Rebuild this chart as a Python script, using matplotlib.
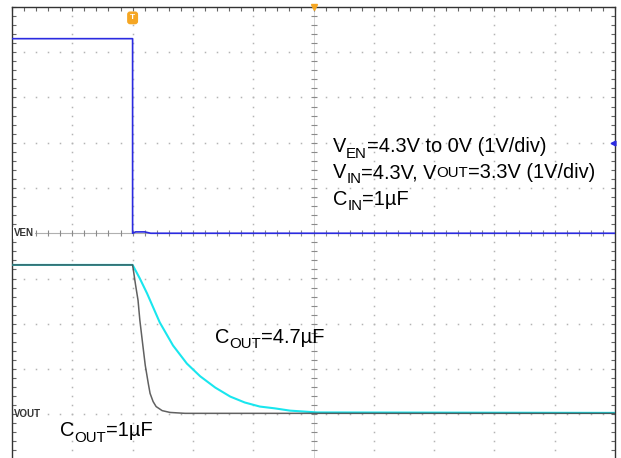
import numpy as np
import matplotlib
matplotlib.use("Agg")
import matplotlib.pyplot as plt
from matplotlib.ticker import MultipleLocator

plt.rcParams['font.family'] = ['Liberation Sans', 'DejaVu Sans']

# time in divisions, trigger at 0
t_en = [-2.0, 0.0, 0.0, 0.05, 0.2, 0.3, 8.0]
v_en = [4.3, 4.3, 0.0, 0.03, 0.03, 0.0, 0.0]

t_1u = [-2.0, 0.0, 0.05, 0.09, 0.12, 0.17, 0.21, 0.26, 0.29, 0.34, 0.39, 0.49, 0.62, 0.87, 8.0]
v_1u = [3.3, 3.3, 2.85, 2.52, 2.08, 1.52, 1.08, 0.68, 0.46, 0.28, 0.17, 0.08, 0.04, 0.02, 0.02]

t_47u = [-2.0, 0.0, 0.12, 0.24, 0.45, 0.67, 0.90, 1.12, 1.37, 1.62, 1.86, 2.11, 2.36, 2.61, 3.06, 8.0]
v_47u = [3.3, 3.3, 3.0, 2.67, 2.03, 1.52, 1.12, 0.84, 0.59, 0.39, 0.26, 0.17, 0.13, 0.08, 0.04, 0.03]

# channel positions (div)
en_offset = 0.0
out_offset = -4.0

fig = plt.figure(figsize=(6.21, 4.58), dpi=100)
ax = fig.add_axes([12/621, 1 - 459.5/458, 603/621, 452.5/458])
ax.set_xlim(-2, 8)
ax.set_ylim(-5, 5)

# dotted graticule
grid_c = '#b4b4b4'
fine_y = np.arange(-5, 5.01, 0.2)
fine_x = np.arange(-2, 8.01, 0.2)
for gx in range(-1, 8):
    if gx == 3:
        continue
    ax.plot(np.full_like(fine_y, gx), fine_y, ls='none', marker='s', ms=1.1, mew=0, color=grid_c, zorder=1)
for gy in range(-4, 5):
    if gy == 0:
        continue
    ax.plot(fine_x, np.full_like(fine_x, gy), ls='none', marker='s', ms=1.1, mew=0, color=grid_c, zorder=1)

# center axes with ticks
ax.axvline(3, color='#cfcfcf', lw=0.6, zorder=1)
ax.plot(np.full_like(fine_y, 3), fine_y, ls='none', marker='_', ms=4, mew=0.8, color='#8a8a8a', zorder=1)
ax.axhline(0, color='#b0b0b0', lw=0.8, zorder=1)
ax.plot(fine_x, np.zeros_like(fine_x), ls='none', marker='|', ms=4, mew=0.8, color='#8a8a8a', zorder=1)

# traces
ax.plot(t_en, np.array(v_en) + en_offset, color='#2b2be0', lw=1.2, zorder=3)
ax.plot(t_47u, np.array(v_47u) + out_offset, color='#19e6ee', lw=1.5, zorder=3)
ax.plot(t_1u, np.array(v_1u) + out_offset, color='#454545', lw=1.1, alpha=0.85, zorder=4)

# frame
for s in ax.spines.values():
    s.set_color('#333333')
    s.set_linewidth(1.0)
ax.xaxis.set_major_locator(MultipleLocator(1))
ax.xaxis.set_minor_locator(MultipleLocator(0.2))
ax.yaxis.set_major_locator(MultipleLocator(1))
ax.yaxis.set_minor_locator(MultipleLocator(0.2))
ax.tick_params(which='both', direction='in', length=3, width=0.8, color='#666666',
               top=True, right=True, bottom=False,
               labelleft=False, labelbottom=False)

# scope markers
ax.text(0, 4.76, 'T', color='white', fontsize=6, fontweight='bold', ha='center', va='center',
        bbox=dict(boxstyle='round,pad=0.35', fc='#f5a623', ec='none'), zorder=6)
ax.plot([3], [5], marker='v', ms=5, color='#f5a623', clip_on=False, zorder=6)
ax.plot([7.96], [2.0], marker='<', ms=3.5, color='#2b2be0', clip_on=False, zorder=6)

ax.text(-1.96, 0, 'VEN', fontsize=7, fontweight='bold', color='#333333', va='center', ha='left',
        bbox=dict(boxstyle='square,pad=0.1', fc='white', ec='none'), zorder=5)
ax.text(-1.96, -4.0, 'VOUT', fontsize=7, fontweight='bold', color='#333333', va='center', ha='left', zorder=5)

# annotations: pieces chained along one baseline
fs = 14.4
sub_fs = 10.8
sub_drop = -3.8


def label(x, y, parts):
    # parts: list of (text, kind) where kind is 'n' normal, 's' subscript, 'c' small caps
    prev = None
    for txt, kind in parts:
        size = fs if kind == 'n' else sub_fs
        dy = sub_drop if kind == 's' else (0.4 if kind == 'c' else 0)
        if prev is None:
            prev = ax.annotate(txt, xy=(x, y), xycoords='data', xytext=(0, dy),
                               textcoords='offset points', fontsize=size,
                               va='baseline', ha='left', zorder=5)
        else:
            prev = ax.annotate(txt, xy=(1, y), xycoords=(prev, 'data'), xytext=(0, dy),
                               textcoords='offset points', fontsize=size,
                               va='baseline', ha='left', zorder=5)


label(3.32, 1.79, [('V', 'n'), ('EN', 's'), ('=4.3V to 0V (1V/div)', 'n')])
label(3.32, 1.22, [('V', 'n'), ('IN', 's'), ('=4.3V, V', 'n'), ('OUT', 'c'), ('=3.3V (1V/div)', 'n')])
label(3.32, 0.62, [('C', 'n'), ('IN', 's'), ('=1µF', 'n')])
label(1.37, -2.43, [('C', 'n'), ('OUT', 's'), ('=4.7µF', 'n')])
label(-1.20, -4.49, [('C', 'n'), ('OUT', 's'), ('=1µF', 'n')])

fig.savefig('out.png', dpi=100)
